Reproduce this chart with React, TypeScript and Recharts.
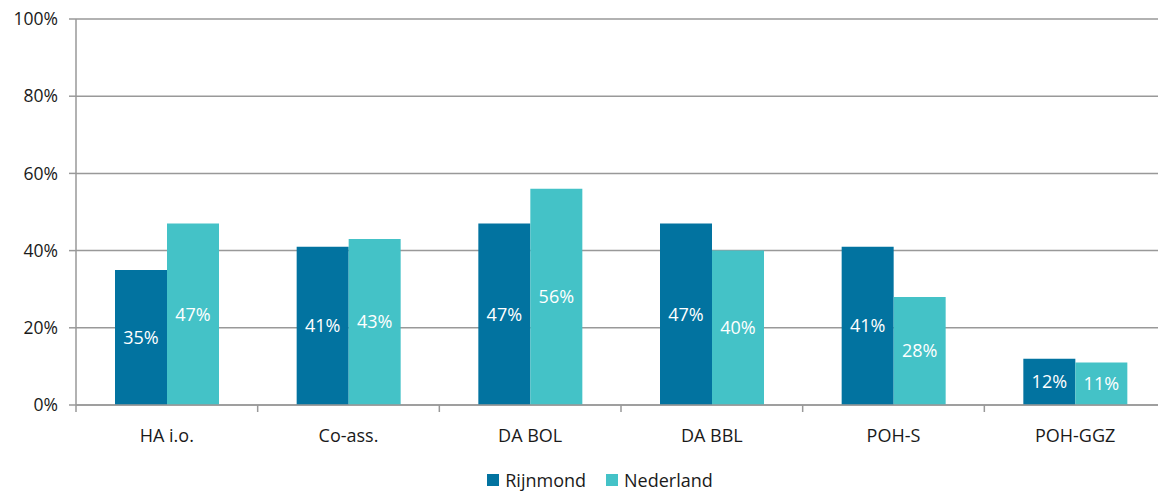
import { BarChart, Bar, XAxis, YAxis, CartesianGrid, Legend, LabelList } from "recharts";

const categories = ["HA i.o.", "Co-ass.", "DA BOL", "DA BBL", "POH-S", "POH-GGZ"];
const rijnmond = [35, 41, 47, 47, 41, 12];
const nederland = [47, 43, 56, 40, 28, 11];
const yTicks = [0, 20, 40, 60, 80, 100];
const seriesNames = ["Rijnmond", "Nederland"];
const seriesColors = ["#0273A0", "#44C2C7"];

const data = categories.map((name, i) => ({ name, Rijnmond: rijnmond[i], Nederland: nederland[i] }));

const W = 1158;
const H = 491;
const LEFT = 68;
const RIGHT = 0;
const BAND = (W - LEFT - RIGHT) / categories.length;
const FONT = "'Open Sans', 'Noto Sans', sans-serif";
const GRID = "#999999";
const TEXT = "#1a1a1a";

interface TickProps {
  x?: number;
  y?: number;
  payload?: { value: string };
}

function CategoryTick({ x = 0, y = 0, payload }: TickProps) {
  return (
    <g>
      <line x1={x - BAND / 2} x2={x - BAND / 2} y1={y - 8} y2={y - 1} stroke={GRID} strokeWidth={1.5} />
      <text x={x} y={y + 29} textAnchor="middle" fill={TEXT} fontSize={18} fontFamily={FONT}>
        {payload?.value}
      </text>
    </g>
  );
}

function SeriesLegend() {
  return (
    <div style={{ display: "flex", justifyContent: "center", height: 22, lineHeight: "22px", marginLeft: 26 }}>
      {seriesNames.map((name, i) => (
        <div key={name} style={{ display: "flex", alignItems: "center", marginRight: i === 0 ? 20 : 0 }}>
          <span style={{ width: 12, height: 12, background: seriesColors[i], marginRight: 6, display: "inline-block" }} />
          <span style={{ fontSize: 18, color: TEXT, fontFamily: FONT }}>{name}</span>
        </div>
      ))}
    </div>
  );
}

export default function App() {
  // pull the chart up over the body margin so the top tick label has room
  return (
    <div style={{ width: W, height: H, marginTop: -8, fontFamily: FONT }}>
      <BarChart
        width={W}
        height={H}
        data={data}
        margin={{ top: 19, right: RIGHT, bottom: 0, left: 0 }}
        barGap={0}
        barSize={52}
      >
        <CartesianGrid vertical={false} stroke={GRID} strokeWidth={1.5} />
        <XAxis
          dataKey="name"
          axisLine={{ stroke: GRID, strokeWidth: 1.5 }}
          tickLine={false}
          tick={<CategoryTick />}
          height={64}
          interval={0}
        />
        <YAxis
          domain={[0, 100]}
          ticks={yTicks}
          tickFormatter={(v: number) => `${v}%`}
          width={LEFT}
          axisLine={{ stroke: GRID, strokeWidth: 1.5 }}
          tickLine={{ stroke: GRID, strokeWidth: 1.5 }}
          tickSize={7}
          tickMargin={11}
          tick={{ fill: TEXT, fontSize: 17.5, fontFamily: FONT }}
        />
        <Legend verticalAlign="bottom" content={<SeriesLegend />} wrapperStyle={{ bottom: 0 }} />
        <Bar dataKey="Rijnmond" fill={seriesColors[0]} isAnimationActive={false}>
          <LabelList
            dataKey="Rijnmond"
            position="center"
            formatter={(v: number) => `${v}%`}
            fill="#ffffff"
            fontSize={18}
            fontFamily={FONT}
          />
        </Bar>
        <Bar dataKey="Nederland" fill={seriesColors[1]} isAnimationActive={false}>
          <LabelList
            dataKey="Nederland"
            position="center"
            formatter={(v: number) => `${v}%`}
            fill="#ffffff"
            fontSize={18}
            fontFamily={FONT}
          />
        </Bar>
      </BarChart>
    </div>
  );
}
